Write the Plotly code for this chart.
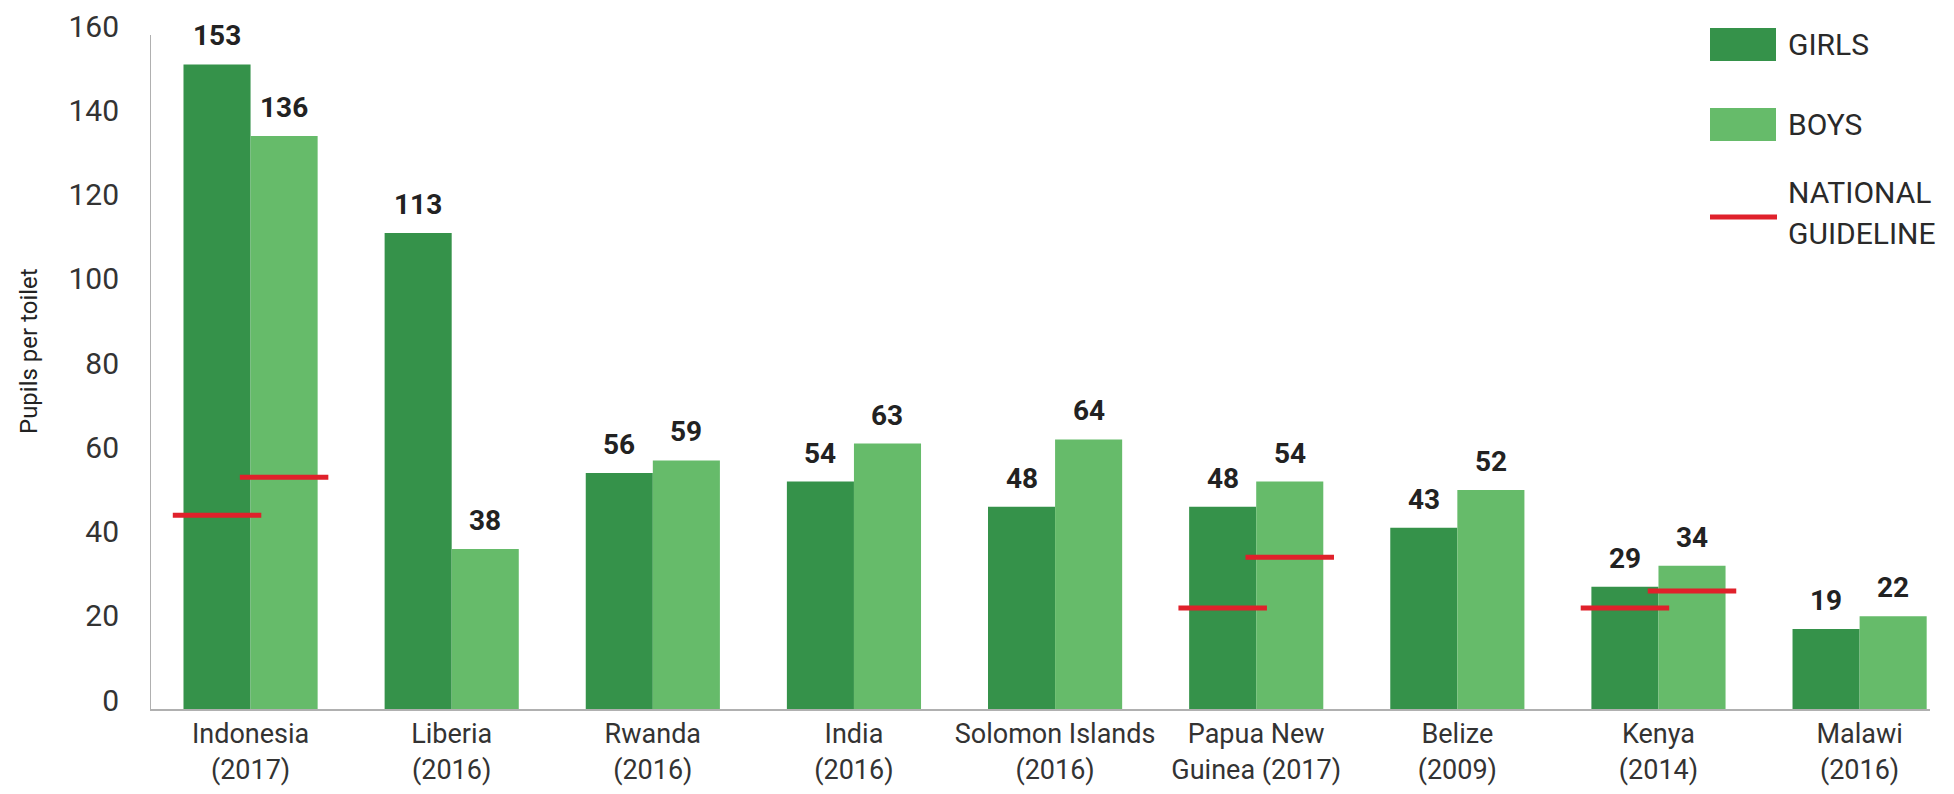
import plotly.graph_objects as go

categories = ["Indonesia<br>(2017)", "Liberia<br>(2016)", "Rwanda<br>(2016)", "India<br>(2016)",
              "Solomon Islands<br>(2016)", "Papua New<br>Guinea (2017)", "Belize<br>(2009)",
              "Kenya<br>(2014)", "Malawi<br>(2016)"]
girls = [153, 113, 56, 54, 48, 48, 43, 29, 19]
boys = [136, 38, 59, 63, 64, 54, 52, 34, 22]
guide_girls = [46, None, None, None, None, 24, None, 24, None]
guide_boys = [55, None, None, None, None, 36, None, 28, None]
yticks = [0, 20, 40, 60, 80, 100, 120, 140, 160]

DARK = "#35924a"
LIGHT = "#66bb6a"
RED = "#e0212b"
FONT = "Roboto, Liberation Sans, sans-serif"

W, H = 1954, 794
ML, MR, MT, MB = 150, 24, 35, 85
PW = W - ML - MR
PH = H - MT - MB

def px(x):
    return (x - ML) / PW

def py(y):
    return (H - MB - y) / PH

xs = list(range(len(categories)))
half = 0.1667
fig = go.Figure()
fig.add_trace(go.Bar(x=xs, y=girls, name="GIRLS", marker=dict(color=DARK, line=dict(width=0)), showlegend=False))
fig.add_trace(go.Bar(x=xs, y=boys, name="BOYS", marker=dict(color=LIGHT, line=dict(width=0)), showlegend=False))

lx, ly = [], []
for i, (g, b) in enumerate(zip(guide_girls, guide_boys)):
    for off, v in ((-half, g), (half, b)):
        if v is None:
            continue
        lx += [i + off - 0.22, i + off + 0.22, None]
        ly += [v, v, None]
fig.add_trace(go.Scatter(x=lx, y=ly, mode="lines", line=dict(color=RED, width=5),
                         name="NATIONAL GUIDELINE", showlegend=False, hoverinfo="skip"))

annotations = []
for i, (g, b) in enumerate(zip(girls, boys)):
    for off, v in ((-half, g), (half, b)):
        annotations.append(dict(x=i + off, y=v, xref="x", yref="y", text=f"<b>{v}</b>",
                                showarrow=False, yanchor="bottom", yshift=10,
                                font=dict(family=FONT, size=28, color="#222222")))

# y-axis title
annotations.append(dict(x=px(29), y=py(351), xref="paper", yref="paper", text="Pupils per toilet",
                        textangle=-90, showarrow=False, xanchor="center", yanchor="middle",
                        font=dict(family=FONT, size=24, color="#222222")))

# custom legend
shapes = [
    dict(type="rect", xref="paper", yref="paper", x0=px(1710), x1=px(1776), y0=py(61), y1=py(28),
         fillcolor=DARK, line=dict(width=0)),
    dict(type="rect", xref="paper", yref="paper", x0=px(1710), x1=px(1776), y0=py(141), y1=py(108),
         fillcolor=LIGHT, line=dict(width=0)),
    dict(type="line", xref="paper", yref="paper", x0=px(1710), x1=px(1777), y0=py(217), y1=py(217),
         line=dict(color=RED, width=5)),
    dict(type="line", xref="x", yref="y", x0=-0.5, x1=-0.5, y0=0, y1=160,
         line=dict(color="#b0b0b0", width=2)),
]
for txt, yc in (("GIRLS", 45), ("BOYS", 125), ("NATIONAL", 192), ("GUIDELINE", 233)):
    annotations.append(dict(x=px(1786), y=py(yc), xref="paper", yref="paper", text=txt,
                            showarrow=False, xanchor="left", yanchor="middle", align="left",
                            font=dict(family=FONT, size=30, color="#2a2a2a")))

fig.update_layout(
    width=W, height=H,
    margin=dict(l=ML, r=MR, t=MT, b=MB, autoexpand=False),
    paper_bgcolor="white", plot_bgcolor="white",
    barmode="group", bargap=0.333, bargroupgap=0,
    annotations=annotations, shapes=shapes,
    font=dict(family=FONT, color="#333333"),
)
fig.update_xaxes(range=[-0.5, 8.35], tickvals=xs, ticktext=categories, showgrid=False,
                 showline=True, linecolor="#b0b0b0", linewidth=2, ticks="", zeroline=False,
                 ticklabelstandoff=0, automargin=False,
                 tickfont=dict(family=FONT, size=27, color="#333333"))
fig.update_yaxes(range=[0, 160], tickvals=yticks, showgrid=False, showline=False, zeroline=False,
                 ticks="", ticklabelstandoff=30, ticklabelshift=-9, automargin=False,
                 tickfont=dict(family=FONT, size=30, color="#333333"))

fig.write_html("out.html")
